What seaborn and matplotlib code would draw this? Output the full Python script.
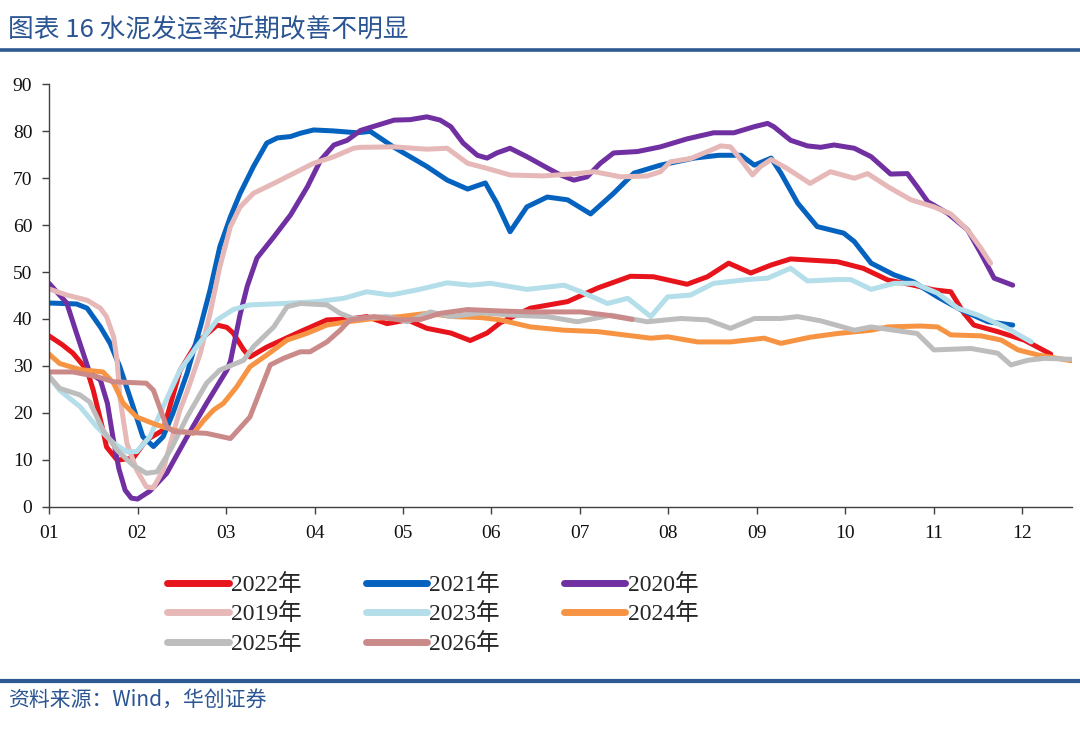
import numpy as np
import pandas as pd
import matplotlib
matplotlib.use('Agg')
import matplotlib.pyplot as plt
from matplotlib.lines import Line2D
import seaborn as sns

# 月份位置(1=1月初) 与 水泥发运率(%)
x_2022 = [1.00, 1.15, 1.27, 1.43, 1.50, 1.60, 1.65, 1.77, 1.95, 2.10, 2.29, 2.48, 2.67, 2.90, 3.01, 3.08,
          3.20, 3.27, 3.46, 3.84, 4.14, 4.40, 4.59, 4.82, 5.05, 5.27, 5.54, 5.76, 5.95, 6.10, 6.44, 6.86,
          7.20, 7.57, 7.83, 8.21, 8.44, 8.68, 8.93, 9.16, 9.38, 9.91, 10.20, 10.48, 10.77, 11.00, 11.19,
          11.34, 11.45, 11.72, 12.02, 12.32]
v_2022 = [36.4, 34.5, 32.7, 29.1, 24.8, 17.0, 12.7, 9.9, 10.3, 14.2, 16.3, 29.0, 34.9, 38.7, 38.2, 37.0,
          33.4, 31.9, 34.0, 37.3, 39.8, 40.0, 40.5, 39.0, 39.8, 38.0, 37.0, 35.4, 37.0, 39.2, 42.3, 43.7,
          46.6, 49.1, 49.0, 47.4, 49.0, 51.9, 49.8, 51.5, 52.8, 52.2, 50.8, 48.3, 47.2, 46.2, 45.8,
          41.2, 38.7, 37.3, 35.5, 32.5]

x_2021 = [1.00, 1.31, 1.43, 1.58, 1.69, 1.80, 1.95, 2.06, 2.18, 2.29, 2.40, 2.56, 2.71, 2.82, 2.93, 3.05,
          3.16, 3.31, 3.46, 3.58, 3.73, 3.84, 3.99, 4.21, 4.48, 4.63, 4.89, 5.27, 5.50, 5.73, 5.93, 6.06,
          6.21, 6.40, 6.63, 6.86, 7.12, 7.38, 7.61, 7.91, 8.29, 8.57, 8.82, 8.97, 9.16, 9.27, 9.46, 9.68,
          9.98, 10.10, 10.29, 10.55, 10.77, 11.04, 11.31, 11.61, 11.89]
v_2021 = [43.4, 43.2, 42.3, 38.3, 34.8, 29.8, 21.3, 14.9, 12.8, 14.9, 19.9, 28.4, 38.3, 46.2, 55.4, 61.8,
          66.8, 72.5, 77.5, 78.6, 78.9, 79.6, 80.3, 80.1, 79.7, 80.0, 76.7, 72.5, 69.6, 67.7, 69.0, 64.7,
          58.6, 63.9, 66.0, 65.4, 62.4, 66.8, 71.1, 72.8, 74.3, 74.9, 74.9, 72.8, 74.3, 71.1, 64.7, 59.7,
          58.3, 56.5, 51.9, 49.4, 47.9, 44.7, 41.9, 39.4, 38.7]

x_2020 = [1.00, 1.20, 1.31, 1.46, 1.58, 1.66, 1.72, 1.79, 1.86, 1.93, 2.00, 2.14, 2.33, 2.56, 2.78, 3.01,
          3.05, 3.16, 3.24, 3.35, 3.54, 3.73, 3.92, 4.07, 4.22, 4.37, 4.52, 4.71, 4.90, 5.08, 5.27, 5.42,
          5.54, 5.68, 5.84, 5.95, 6.06, 6.21, 6.40, 6.63, 6.78, 6.93, 7.08, 7.23, 7.38, 7.65, 7.91, 8.21,
          8.51, 8.74, 8.97, 9.12, 9.19, 9.38, 9.57, 9.72, 9.87, 10.10, 10.29, 10.51, 10.70, 10.81, 10.93,
          11.15, 11.38, 11.53, 11.68, 11.89]
v_2020 = [47.6, 43.4, 37.0, 28.5, 27.0, 22.0, 15.0, 8.0, 3.5, 1.8, 1.6, 3.3, 7.1, 14.9, 22.0, 29.1,
          31.0, 41.0, 47.0, 53.0, 57.5, 62.2, 68.2, 73.9, 77.1, 78.1, 80.2, 81.3, 82.4, 82.5, 83.1, 82.4,
          81.0, 77.5, 74.9, 74.3, 75.4, 76.4, 74.6, 72.2, 70.7, 69.6, 70.3, 73.2, 75.4, 75.7, 76.7, 78.4,
          79.7, 79.7, 81.0, 81.7, 81.0, 78.1, 76.9, 76.6, 77.1, 76.4, 74.6, 70.9, 71.0, 68.2, 65.0,
          62.6, 59.0, 54.0, 48.7, 47.2]

x_2019 = [1.00, 1.20, 1.43, 1.58, 1.65, 1.73, 1.77, 1.80, 1.88, 1.99, 2.10, 2.18, 2.29, 2.41, 2.48, 2.56,
          2.71, 2.82, 2.93, 3.05, 3.16, 3.31, 3.54, 3.76, 3.99, 4.22, 4.44, 4.52, 4.90, 5.27, 5.50, 5.73,
          5.95, 6.21, 6.59, 6.97, 7.16, 7.46, 7.76, 7.91, 8.02, 8.25, 8.48, 8.59, 8.70, 8.82, 8.95, 9.04,
          9.16, 9.34, 9.60, 9.83, 10.10, 10.25, 10.48, 10.74, 11.00, 11.19, 11.38, 11.53, 11.64]
v_2019 = [46.4, 45.1, 44.0, 42.3, 40.5, 36.2, 31.0, 23.4, 13.5, 7.8, 4.2, 4.0, 7.8, 16.0, 20.6, 24.5,
          32.7, 41.2, 51.1, 59.7, 63.9, 66.8, 68.9, 71.0, 73.2, 74.6, 76.4, 76.6, 76.7, 76.2, 76.4, 73.2,
          72.1, 70.7, 70.5, 71.0, 71.4, 70.3, 70.5, 71.4, 73.5, 74.2, 76.0, 76.9, 76.7, 73.9, 70.7, 72.5,
          74.0, 72.1, 68.9, 71.4, 70.0, 71.0, 68.2, 65.4, 63.9, 62.4, 59.0, 55.1, 51.9]

x_2023 = [1.00, 1.12, 1.35, 1.54, 1.73, 1.88, 1.99, 2.14, 2.29, 2.48, 2.67, 2.90, 3.08, 3.27, 3.65, 4.03,
          4.33, 4.59, 4.86, 5.16, 5.50, 5.76, 5.99, 6.40, 6.82, 7.01, 7.31, 7.54, 7.80, 7.99, 8.25, 8.51,
          8.89, 9.12, 9.38, 9.57, 9.91, 10.06, 10.29, 10.55, 10.78, 11.04, 11.27, 11.50, 11.80, 12.10]
v_2023 = [27.7, 24.8, 21.3, 17.0, 13.5, 11.7, 11.7, 14.9, 21.3, 29.1, 34.1, 39.8, 42.0, 43.0, 43.3, 43.7,
          44.4, 45.8, 45.1, 46.2, 47.7, 47.2, 47.6, 46.3, 47.2, 45.8, 43.3, 44.4, 40.5, 44.7, 45.1, 47.6,
          48.4, 48.7, 50.8, 48.1, 48.4, 48.4, 46.3, 47.6, 47.6, 45.5, 42.3, 40.8, 38.3, 35.1]

x_2024 = [1.00, 1.12, 1.35, 1.61, 1.73, 1.84, 1.99, 2.22, 2.41, 2.63, 2.75, 2.86, 2.97, 3.12, 3.27, 3.46,
          3.69, 3.91, 4.14, 4.37, 4.67, 4.97, 5.27, 5.57, 5.88, 6.10, 6.44, 6.82, 7.20, 7.50, 7.80, 7.99,
          8.33, 8.70, 9.08, 9.27, 9.60, 9.91, 10.29, 10.48, 10.85, 11.04, 11.19, 11.53, 11.76, 11.95,
          12.18, 12.55]
v_2024 = [32.5, 30.5, 29.2, 28.7, 26.3, 22.0, 19.1, 17.4, 16.3, 15.6, 18.4, 20.6, 22.0, 25.5, 29.8, 32.3,
          35.5, 36.9, 38.7, 39.4, 40.1, 40.5, 41.2, 40.5, 40.3, 39.8, 38.3, 37.6, 37.3, 36.6, 35.9, 36.2,
          35.1, 35.1, 35.9, 34.8, 36.1, 36.9, 37.6, 38.3, 38.5, 38.3, 36.6, 36.4, 35.5, 33.4,
          32.3, 31.1]

x_2025 = [1.00, 1.12, 1.35, 1.46, 1.61, 1.77, 1.95, 2.10, 2.22, 2.37, 2.56, 2.78, 2.93, 3.20, 3.31, 3.54,
          3.69, 3.84, 4.14, 4.29, 4.44, 4.82, 5.05, 5.31, 5.54, 5.88, 6.25, 6.63, 6.97, 7.35, 7.76, 8.14,
          8.44, 8.70, 8.97, 9.27, 9.46, 9.72, 10.10, 10.29, 10.66, 10.81, 11.00, 11.42, 11.72, 11.87,
          12.06, 12.25, 12.55]
v_2025 = [27.8, 25.2, 23.8, 22.3, 16.3, 12.0, 8.8, 7.1, 7.4, 12.0, 19.1, 26.3, 29.1, 31.2, 34.1, 38.3,
          42.6, 43.3, 43.0, 41.2, 40.1, 40.5, 39.4, 41.5, 40.5, 41.3, 40.8, 40.5, 39.4, 40.8, 39.4, 40.1,
          39.8, 38.0, 40.1, 40.1, 40.5, 39.6, 37.6, 38.3, 37.3, 36.9, 33.4, 33.7, 32.7, 30.2,
          31.2, 31.6, 31.4]

x_2026 = [1.00, 1.27, 1.54, 1.73, 2.10, 2.18, 2.33, 2.41, 2.78, 3.05, 3.27, 3.50, 3.65, 3.84, 3.95, 4.14,
          4.29, 4.40, 4.67, 4.97, 5.20, 5.42, 5.73, 6.10, 6.44, 7.01, 7.31, 7.59]
v_2026 = [28.7, 28.7, 27.7, 26.6, 26.3, 24.8, 17.0, 16.0, 15.6, 14.5, 19.1, 30.2, 31.6, 33.0, 33.0, 35.1,
          37.6, 39.8, 40.5, 39.8, 39.9, 41.2, 42.0, 41.7, 41.5, 41.5, 40.8, 39.9]

years = ['2022年', '2021年', '2020年', '2019年', '2023年', '2024年', '2025年', '2026年']
colors = ['#E8141C', '#0563BF', '#7130A2', '#E6B9B8', '#B4DEE9', '#F79443', '#BDBDBD', '#CB8A8A']
xs = [x_2022, x_2021, x_2020, x_2019, x_2023, x_2024, x_2025, x_2026]
vs = [v_2022, v_2021, v_2020, v_2019, v_2023, v_2024, v_2025, v_2026]
month_labels = ['01', '02', '03', '04', '05', '06', '07', '08', '09', '10', '11', '12']

frames = []
for name, x, v in zip(years, xs, vs):
    frames.append(pd.DataFrame({'月份': x, '发运率': v, '年份': name}))
df = pd.concat(frames, ignore_index=True)

sns.set_style('ticks')
plt.rcParams['font.family'] = ['Liberation Serif', 'Noto Sans CJK SC', 'DejaVu Sans']

fig = plt.figure(figsize=(10.8, 7.32), dpi=100)
ax = fig.add_axes([0.0454, 0.308, 0.9472, 0.5766])

sns.lineplot(data=df, x='月份', y='发运率', hue='年份', hue_order=years,
             palette=dict(zip(years, colors)), linewidth=3.6, sort=False,
             estimator=None, ax=ax, solid_capstyle='round', solid_joinstyle='round')

ax.set_xlim(1, 12.56)
ax.set_ylim(0, 90)
ax.set_xticks(range(1, 13))
ax.set_xticklabels(month_labels)
ax.set_yticks(range(0, 91, 10))
ax.set_xlabel('')
ax.set_ylabel('')
sns.despine(ax=ax)
for s in ['left', 'bottom']:
    ax.spines[s].set_color('#404040')
    ax.spines[s].set_linewidth(1.0)
ax.tick_params(axis='both', direction='out', length=5, width=1, color='#404040',
               labelsize=14, labelcolor='#111111')
ax.tick_params(axis='y', pad=7)
ax.tick_params(axis='x', pad=8)

handles, labels = ax.get_legend_handles_labels()
ax.get_legend().remove()
order = ['2022年', '2019年', '2025年', '2021年', '2023年', '2026年', '2020年', '2024年']
hmap = dict(zip(labels, handles))
hs = []
for lab in order:
    h = hmap[lab]
    hs.append(Line2D([], [], color=h.get_color(), linewidth=5, solid_capstyle='round'))
fig.legend(hs, order, loc='upper left', bbox_to_anchor=(0.144, 0.232), ncol=3,
           frameon=False, borderpad=0, handlelength=2.6, handletextpad=0.1,
           columnspacing=2.7, labelspacing=0.32,
           prop={'family': ['Liberation Serif', 'Noto Sans CJK SC'], 'size': 17})

title_color = '#2B5592'
fig.text(0.007, 1 - 30 / 732, '图表 16 水泥发运率近期改善不明显', fontsize=18.5,
         color=title_color, va='center', ha='left',
         family=['Noto Sans CJK SC', 'DejaVu Sans'])
fig.add_artist(Line2D([0, 1], [1 - 49.5 / 732, 1 - 49.5 / 732], transform=fig.transFigure,
                      color='#2E5A94', linewidth=2.6))
fig.add_artist(Line2D([0, 1], [1 - 681 / 732, 1 - 681 / 732], transform=fig.transFigure,
                      color='#2E5A94', linewidth=3.0))
fig.text(0.007, 1 - 700 / 732, '资料来源：Wind，华创证券', fontsize=15,
         color=title_color, va='center', ha='left', style='italic',
         family=['Noto Sans CJK SC', 'DejaVu Sans'])

fig.savefig('out.png', dpi=100)
